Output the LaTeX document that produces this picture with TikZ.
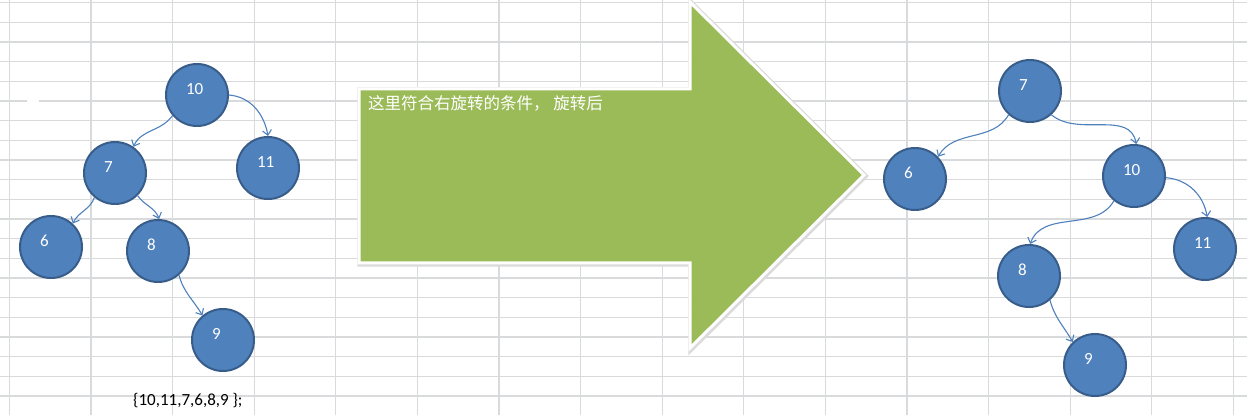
\documentclass[tikz,border=0pt]{standalone}
\usepackage{fontspec}
\setmainfont{Carlito}
\newfontfamily\cjkfont{Noto Sans CJK SC}
\usepackage{tikz}
\usetikzlibrary{arrows.meta}
\definecolor{nodeblue}{RGB}{79,129,189}
\definecolor{nodeedge}{RGB}{56,93,138}
\definecolor{arrowgreen}{RGB}{155,187,89}
\definecolor{gridgray}{RGB}{217,218,219}
\tikzset{%
  >={Straight Barb[length=5pt,width=9pt]},
  % Specifications for style of nodes:
  keynode/.style = {circle, draw=nodeedge, line width=2pt,
    fill=nodeblue, minimum size=62pt, inner sep=0pt},
  keynum/.style = {inner sep=0pt, text width=18pt, align=left,
    xshift=-2pt, yshift=6pt,
    text=white, font=\fontsize{17}{20}\selectfont},
  link/.style = {->, draw=nodeblue, line width=1.1pt},
  sheetline/.style = {gridgray, line width=1.2pt},
}

\begin{document}
\begin{tikzpicture}[x=1pt,y=1pt]
    \useasboundingbox (0,0) rectangle (1247,415);
    \fill[white] (0,0) rectangle (1247,415);
    % Sheet grid
    \foreach \gx in {0,...,15}
        \draw[sheetline] ({9.3+81.6*\gx},0) -- ++(0,415);
    \foreach \gy in {0,...,20}
        \draw[sheetline] (0,{412.3-19.66*\gy}) -- ++(1247,0);
    \fill[white] (33,313) circle (6);
    % Big arrow
    \draw[black!14, line width=5.5pt, shift={(1,-1)}]
        (359,326) -- (690,326) -- (690,413) -- (864,240) -- (690,67) -- (690,152) -- (359,152) -- cycle;
    \draw[white, line width=3pt, fill=arrowgreen]
        (359,326) -- (690,326) -- (690,413) -- (864,240) -- (690,67) -- (690,152) -- (359,152) -- cycle;
    \node(note)[anchor=base west, inner sep=0pt, text=white,
        font=\cjkfont\fontsize{16.5}{19}\selectfont] at (368,305) {这里符合右旋转的条件， 旋转后};
    % Tree before the rotation
    \node(l10)[keynode, label={[keynum]center:10}] at (197,320) {};
    \node(l7)[keynode, label={[keynum]center:7}] at (115,242) {};
    \node(l11)[keynode, label={[keynum]center:11}] at (268,247) {};
    \node(l6)[keynode, label={[keynum]center:6}] at (51,168) {};
    \node(l8)[keynode, label={[keynum]center:8}] at (158,164) {};
    \node(l9)[keynode, label={[keynum]center:9}] at (223,75) {};
    \node(seq)[anchor=base west, inner sep=0pt, font=\fontsize{17}{20}\selectfont]
        at (133,10) {\{10,11,7,6,8,9 \};};
    \draw[link](l10.220) to[out=235, in=65] (l7.55);
    \draw[link](l10.east) to[out=-5, in=100] (l11.north);
    \draw[link](l7.230) to[out=250, in=65] (l6.47);
    \draw[link](l7.315) to[out=-55, in=110] (l8.88);
    \draw[link](l8.311) to[out=-75, in=120] (l9.130);
    % Tree after the rotation
    \node(r7)[keynode, label={[keynum]center:7}] at (1030,324) {};
    \node(r6)[keynode, label={[keynum]center:6}] at (915,236) {};
    \node(r10)[keynode, label={[keynum]center:10}] at (1134,239) {};
    \node(r11)[keynode, label={[keynum]center:11}] at (1205,166) {};
    \node(r8)[keynode, label={[keynum]center:8}] at (1029,139) {};
    \node(r9)[keynode, label={[keynum]center:9}] at (1095,50) {};
    \draw[link](r7.228) to[out=240, in=60] (r6.44);
    \draw[link](r7.312) to[out=-40, in=100] (r10.86);
    \draw[link](r10.231) to[out=240, in=70] (r8.88);
    \draw[link](r10.357) to[out=-5, in=100] (r11.86);
    \draw[link](r8.311) to[out=-75, in=120] (r9.134);
\end{tikzpicture}
\end{document}
